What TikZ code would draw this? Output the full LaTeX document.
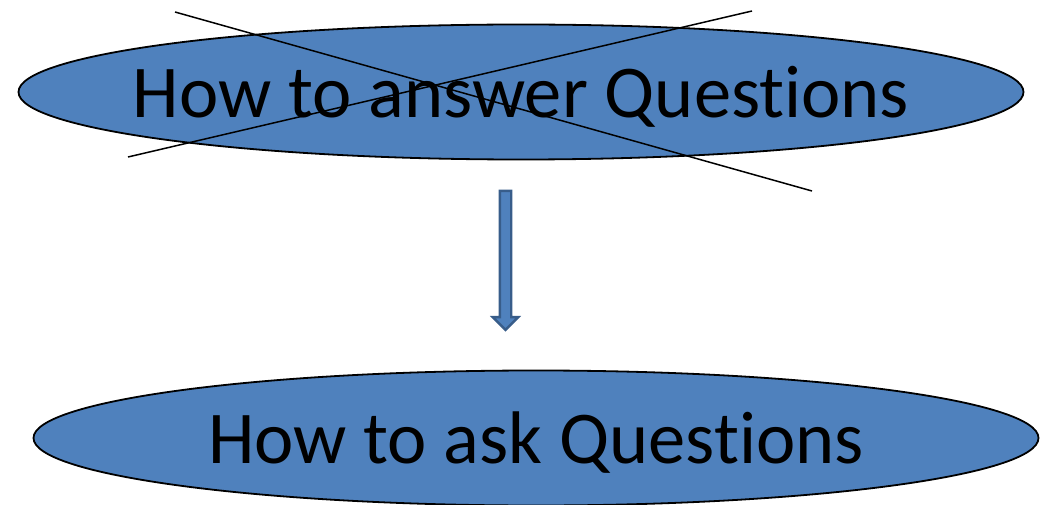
\documentclass[tikz,border=0pt]{standalone}
\usepackage{fontspec}
\setmainfont{Carlito}[Ligatures=NoCommon]
\usetikzlibrary{shapes.geometric,shapes.arrows}
\definecolor{ovalblue}{HTML}{4F81BD}
\definecolor{edgeblue}{HTML}{385D8A}
\tikzset{
  oval/.style={ellipse,draw=black,line width=1.8pt,fill=ovalblue,inner sep=-100pt,
    text depth=0pt,minimum width=1005pt,minimum height=135pt,
    font=\fontsize{74.5}{80}\selectfont},
  downarrow/.style={single arrow,draw=edgeblue,fill=ovalblue,line width=2.4pt,
    shape border rotate=270,minimum height=139pt,minimum width=25pt,
    single arrow head extend=7pt,inner sep=4.5pt}
}
\begin{document}
\begin{tikzpicture}[x=1pt,y=-1pt]
    \useasboundingbox (0,0) rectangle (1044,505);
    \node[oval](answer) at (521,92){How to answer Questions};
    \node[oval](ask) at (536,438){How to ask Questions};
    \node[downarrow](shift) at (505.5,257.5){};
    \coordinate (crossA) at (175,12);
    \coordinate (crossB) at (812,191);
    \coordinate (crossC) at (752,11);
    \coordinate (crossD) at (128,157);
    \draw[line width=1.5pt](crossA)--(crossB);
    \draw[line width=1.5pt](crossC)--(crossD);
\end{tikzpicture}
\end{document}
